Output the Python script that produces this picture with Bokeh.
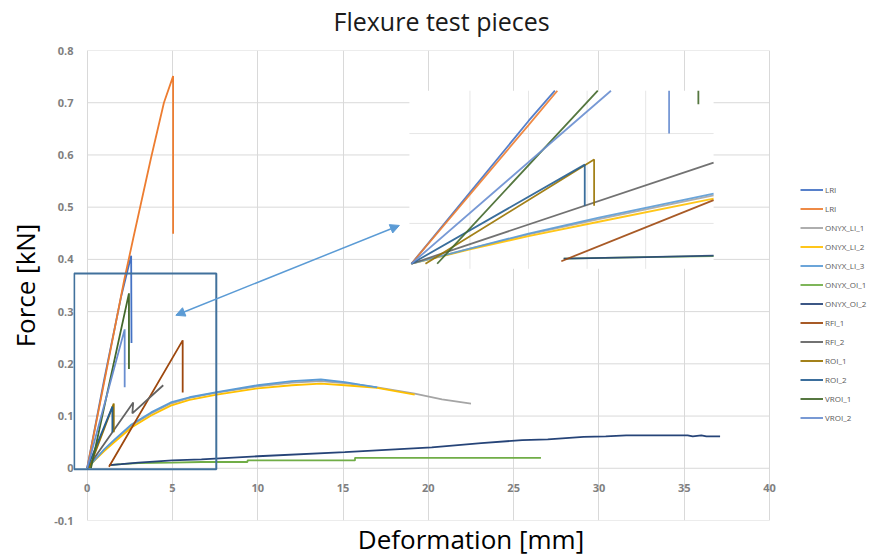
import numpy as np
from bokeh.plotting import figure
from bokeh.layouts import row
from bokeh.models import (Range1d, LinearAxis, FixedTicker, Legend, LegendItem,
                          Arrow, NormalHead, BoxAnnotation, Spacer, Title)
from bokeh.embed import file_html
from bokeh.resources import INLINE

# ---------------- data ----------------
x_ticks = [0, 5, 10, 15, 20, 25, 30, 35, 40]
x_tick_labels = ["0", "5", "10", "15", "20", "25", "30", "35", "40"]
y_ticks = [-0.1, 0, 0.1, 0.2, 0.3, 0.4, 0.5, 0.6, 0.7, 0.8]
y_tick_labels = ["-0.1", "0", "0.1", "0.2", "0.3", "0.4", "0.5", "0.6", "0.7", "0.8"]

series_names = ["LRI", "LRI", "ONYX_LI_1", "ONYX_LI_2", "ONYX_LI_3", "ONYX_OI_1",
                "ONYX_OI_2", "RFI_1", "RFI_2", "ROI_1", "ROI_2", "VROI_1", "VROI_2"]
series_colors = ["#4472C4", "#ED7D31", "#A5A5A5", "#FFC000", "#5B9BD5", "#70AD47",
                 "#264478", "#9E480E", "#636363", "#997300", "#255E91", "#43682B", "#698ED0"]

lri_1_x = [0, 1.0, 2.0, 2.58, 2.6]
lri_1_y = [0, 0.17, 0.33, 0.407, 0.24]
lri_2_x = [0, 1.0, 2.17, 2.7, 3.75, 4.5, 5.04, 5.04]
lri_2_y = [0, 0.165, 0.36, 0.44, 0.595, 0.70, 0.751, 0.449]
onyx_li_1_x = [0, 0.5, 1, 1.6, 2.6, 3.75, 4.9, 6, 7.6, 10, 12, 13.7, 15.1, 17, 19.2, 20.8, 22.5]
onyx_li_1_y = [0, 0.018, 0.035, 0.053, 0.082, 0.105, 0.124, 0.135, 0.145, 0.157, 0.164, 0.167,
               0.163, 0.155, 0.143, 0.132, 0.124]
onyx_li_2_x = [0, 0.5, 1, 1.6, 2.6, 3.75, 4.9, 6, 7.6, 10, 12, 13.7, 15.1, 17, 19.2]
onyx_li_2_y = [0, 0.017, 0.033, 0.050, 0.078, 0.101, 0.120, 0.131, 0.141, 0.153, 0.159, 0.162,
               0.159, 0.154, 0.141]
onyx_li_3_x = [0, 0.5, 1, 1.6, 2.6, 3.75, 4.9, 6, 7.6, 10, 12, 13.7, 15.1, 16, 17]
onyx_li_3_y = [0, 0.018, 0.036, 0.055, 0.084, 0.107, 0.126, 0.136, 0.146, 0.159, 0.167, 0.170,
               0.165, 0.160, 0.155]
onyx_oi_1_x = [1.3, 2, 3, 5, 6.7, 9.4, 9.4, 15.7, 15.7, 26.6]
onyx_oi_1_y = [0.006, 0.008, 0.010, 0.011, 0.012, 0.012, 0.015, 0.015, 0.020, 0.020]
onyx_oi_2_x = [1.3, 2, 3, 5, 6.7, 10, 15.1, 20.2, 23.1, 25.5, 27, 29.1, 30.4, 31.6, 35.2, 35.5,
               36, 36.3, 37.1]
onyx_oi_2_y = [0.006, 0.008, 0.011, 0.015, 0.017, 0.023, 0.031, 0.040, 0.048, 0.054, 0.0555,
               0.060, 0.061, 0.063, 0.063, 0.061, 0.063, 0.061, 0.061]
rfi_1_x = [1.28, 5.6, 5.6]
rfi_1_y = [0.003, 0.245, 0.145]
rfi_2_x = [0, 2.7, 2.65, 4.46]
rfi_2_y = [0, 0.126, 0.105, 0.159]
roi_1_x = [0.12, 1.56, 1.56]
roi_1_y = [0, 0.124, 0.069]
roi_2_x = [0, 1.48, 1.48]
roi_2_y = [0, 0.118, 0.069]
vroi_1_x = [0.22, 2.45, 2.45]
vroi_1_y = [0, 0.335, 0.19]
vroi_2_x = [0, 2.2, 2.2]
vroi_2_y = [0, 0.266, 0.155]

series_x = [lri_1_x, lri_2_x, onyx_li_1_x, onyx_li_2_x, onyx_li_3_x, onyx_oi_1_x, onyx_oi_2_x,
            rfi_1_x, rfi_2_x, roi_1_x, roi_2_x, vroi_1_x, vroi_2_x]
series_y = [lri_1_y, lri_2_y, onyx_li_1_y, onyx_li_2_y, onyx_li_3_y, onyx_oi_1_y, onyx_oi_2_y,
            rfi_1_y, rfi_2_y, roi_1_y, roi_2_y, vroi_1_y, vroi_2_y]

# zoomed inset: where it sits on the chart (main data units) and what it shows
inset_box = [18.89, 36.72, 0.382, 0.723]          # left, right, bottom, top
inset_view = [-0.017, 2.58, -0.006, 0.206]        # x0, x1, y0, y1 in inset data units
inset_grid_x = [0.5, 1.0, 1.5, 2.0]
inset_grid_y = [0.048, 0.155]
zoom_box = [-0.76, 7.57, -0.002, 0.373]           # left, right, bottom, top
arrow_pts = [18.3, 0.465, 5.2, 0.293]             # x_start, y_start, x_end, y_end

X_MIN, X_MAX, Y_MIN, Y_MAX = 0, 40, -0.1, 0.8
VIEW_X0, VIEW_X1 = -0.8, 45.8     # visible x span (zoom box at left, legend area at right)
PX_PER_MM = 17.05

# ---------------- helpers ----------------
def clip_poly(xs, ys, x0, x1, y0, y1):
    ox, oy = [], []
    last = None
    for i in range(len(xs) - 1):
        ax, ay, bx, by = xs[i], ys[i], xs[i + 1], ys[i + 1]
        dx, dy = bx - ax, by - ay
        t0, t1 = 0.0, 1.0
        ok = True
        for pv, qv in ((-dx, ax - x0), (dx, x1 - ax), (-dy, ay - y0), (dy, y1 - ay)):
            if pv == 0:
                if qv < 0:
                    ok = False
                    break
            else:
                t = qv / pv
                if pv < 0:
                    if t > t1:
                        ok = False
                        break
                    t0 = max(t0, t)
                else:
                    if t < t0:
                        ok = False
                        break
                    t1 = min(t1, t)
        if not ok or t1 < t0:
            continue
        sx, sy = ax + t0 * dx, ay + t0 * dy
        ex, ey = ax + t1 * dx, ay + t1 * dy
        if last is None or abs(last[0] - sx) > 1e-12 or abs(last[1] - sy) > 1e-12:
            if ox:
                ox.append(np.nan)
                oy.append(np.nan)
            ox.append(sx)
            oy.append(sy)
        ox.append(ex)
        oy.append(ey)
        last = (ex, ey)
    return np.array(ox, dtype=float), np.array(oy, dtype=float)

# ---------------- figure ----------------
FONT = "Open Sans"
p = figure(frame_width=int(round((VIEW_X1 - VIEW_X0) * PX_PER_MM)), frame_height=470,
           x_range=Range1d(VIEW_X0, VIEW_X1), y_range=Range1d(Y_MIN, Y_MAX),
           output_backend="svg", toolbar_location=None,
           min_border_left=0, min_border_right=0, min_border_top=0, min_border_bottom=30)
p.outline_line_color = None
p.background_fill_color = "white"
p.border_fill_color = "white"

p.title.text = "Flexure test pieces"
p.title.align = "left"
p.title.text_font = FONT
p.title.text_font_size = "25px"
p.title.text_font_style = "normal"
p.title.text_color = "#1a1a1a"
p.title.offset = 260
p.title.standoff = 2

# x axis: tick labels along y = 0
xax = p.xaxis[0]
xax.ticker = FixedTicker(ticks=x_ticks)
xax.major_label_overrides = {t: l for t, l in zip(x_ticks, x_tick_labels)}
xax.fixed_location = 0
xax.axis_line_color = None
xax.major_tick_line_color = None
xax.minor_tick_line_color = None
xax.major_tick_out = 0
xax.major_tick_in = 0
xax.major_label_standoff = 16
xax.major_label_text_font = FONT
xax.major_label_text_font_size = "11px"
xax.major_label_text_font_style = "bold"
xax.major_label_text_color = "#7F7F7F"

yax = p.yaxis[0]
yax.ticker = FixedTicker(ticks=y_ticks)
yax.major_label_overrides = {t: l for t, l in zip(y_ticks, y_tick_labels)}
yax.axis_line_color = None
yax.major_tick_line_color = None
yax.minor_tick_line_color = None
yax.major_tick_out = 0
yax.major_tick_in = 0
yax.major_label_standoff = 0
yax.major_label_text_font = FONT
yax.major_label_text_font_size = "11px"
yax.major_label_text_font_style = "bold"
yax.major_label_text_color = "#7F7F7F"
yax.axis_label = "Force [kN]"
yax.axis_label_text_font = FONT
yax.axis_label_text_font_size = "26px"
yax.axis_label_text_font_style = "normal"
yax.axis_label_text_color = "#000000"
yax.axis_label_standoff = 8

lab_ax = LinearAxis(ticker=FixedTicker(ticks=[]), axis_label="Deformation [mm]",
                    axis_line_color=None, major_tick_line_color=None, minor_tick_line_color=None,
                    major_tick_out=0, major_tick_in=0, major_label_standoff=0,
                    axis_label_text_font=FONT, axis_label_text_font_size="26px",
                    axis_label_text_font_style="normal", axis_label_text_color="#000000",
                    axis_label_standoff=0)
p.add_layout(lab_ax, "below")

# blank spacer between the frame and the title
p.add_layout(Title(text=" ", text_font_size="1px", standoff=9), "above")

p.xgrid.grid_line_color = "#D9D9D9"
p.xgrid.grid_line_width = 1
p.ygrid.visible = False
# horizontal gridlines only across the 0..40 plot area
p.segment(x0=[X_MIN] * len(y_ticks), x1=[X_MAX] * len(y_ticks), y0=y_ticks, y1=y_ticks,
          line_color="#D9D9D9", line_width=1)

# main series
renderers = []
for xs, ys, c in zip(series_x, series_y, series_colors):
    r = p.line(xs, ys, line_color=c, line_width=1.8)
    renderers.append(r)

# inset
ix0, ix1, iy0, iy1 = inset_view
bl, br, bb, bt = inset_box
sx = (ix1 - ix0) / (br - bl)
sy = (iy1 - iy0) / (bt - bb)
p.extra_x_ranges = {"ix": Range1d(ix0 - (bl - VIEW_X0) * sx, ix1 + (VIEW_X1 - br) * sx)}
p.extra_y_ranges = {"iy": Range1d(iy0 - (bb - Y_MIN) * sy, iy1 + (Y_MAX - bt) * sy)}

p.quad(left=[bl], right=[br], bottom=[bb], top=[bt], fill_color="white", line_color=None)
p.segment(x0=inset_grid_x, x1=inset_grid_x, y0=[iy0] * len(inset_grid_x), y1=[iy1] * len(inset_grid_x),
          line_color="#E6E6E6", line_width=1, x_range_name="ix", y_range_name="iy")
p.segment(x0=[ix0] * len(inset_grid_y), x1=[ix1] * len(inset_grid_y), y0=inset_grid_y, y1=inset_grid_y,
          line_color="#E6E6E6", line_width=1, x_range_name="ix", y_range_name="iy")
for xs, ys, c in zip(series_x, series_y, series_colors):
    cx, cy = clip_poly(xs, ys, ix0, ix1, iy0, iy1)
    if len(cx):
        p.line(cx, cy, line_color=c, line_width=1.8, line_alpha=0.9,
               x_range_name="ix", y_range_name="iy")

# zoom box and arrow
p.add_layout(BoxAnnotation(left=zoom_box[0], right=zoom_box[1], bottom=zoom_box[2], top=zoom_box[3],
                           fill_alpha=0, line_color="#41719C", line_alpha=1, line_width=2))
ac = "#5B9BD5"
p.add_layout(Arrow(start=NormalHead(size=9, fill_color=ac, line_color=ac),
                   end=NormalHead(size=9, fill_color=ac, line_color=ac),
                   x_start=arrow_pts[0], y_start=arrow_pts[1], x_end=arrow_pts[2], y_end=arrow_pts[3],
                   line_color=ac, line_width=1.5))

# legend (inside the widened frame, right of the 0..40 area)
items = [LegendItem(label=n, renderers=[r]) for n, r in zip(series_names, renderers)]
legend = Legend(items=items, location=(727, 95), glyph_width=23, glyph_height=15, label_height=15,
                spacing=4, padding=0, margin=0, label_standoff=2,
                label_text_font=FONT, label_text_font_size="8px", label_text_color="#595959",
                border_line_color=None, background_fill_alpha=0)
p.add_layout(legend, "center")

layout = row(Spacer(width=4, height=10), p)
open("out.html", "w").write(file_html(layout, INLINE))
